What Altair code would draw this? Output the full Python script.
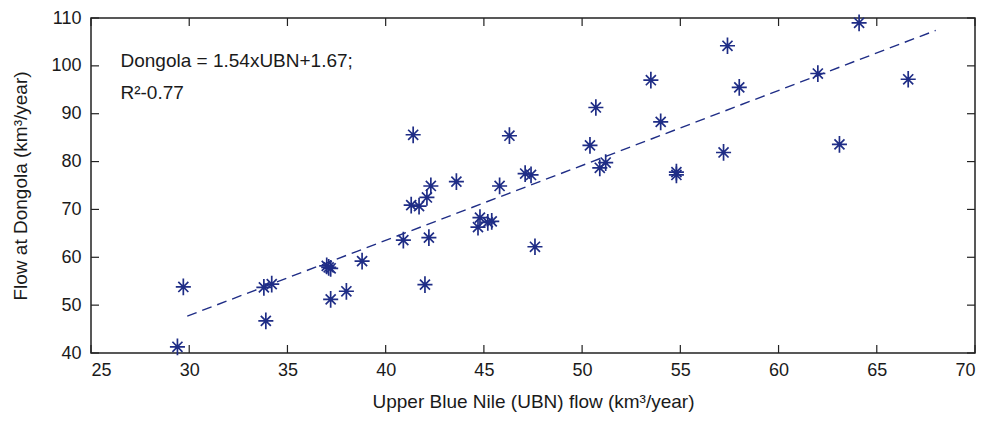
import altair as alt
import pandas as pd

ubn = [29.4, 29.7, 33.8, 34.2, 33.9, 37.0, 37.2, 37.1, 37.2, 38.0, 38.8, 40.9,
       42.0, 42.2, 41.3, 41.7, 42.1, 42.3, 43.6, 44.8, 44.7, 45.2, 45.4, 45.8,
       47.6, 41.4, 46.3, 47.1, 47.4, 50.7, 50.4, 50.9, 51.2, 53.5, 54.0, 54.8,
       54.8, 57.4, 57.2, 58.0, 62.0, 63.1, 64.1, 66.6]
dongola = [41.3, 53.8, 53.7, 54.4, 46.7, 58.2, 57.7, 57.9, 51.2, 52.9, 59.2, 63.6,
           54.3, 64.1, 70.9, 70.7, 72.5, 74.9, 75.8, 68.3, 66.3, 67.3, 67.5, 74.9,
           62.2, 85.6, 85.4, 77.5, 77.2, 91.3, 83.4, 78.7, 79.8, 97.0, 88.3, 77.8,
           77.2, 104.2, 81.9, 95.5, 98.4, 83.6, 109.0, 97.2]

# Fitted regression line endpoints
fit_x = [29.9, 68.0]
fit_y = [47.7, 107.4]

x_ticks = [25, 30, 35, 40, 45, 50, 55, 60, 65, 70]
y_ticks = [40, 50, 60, 70, 80, 90, 100, 110]

annot_text = ["Dongola = 1.54xUBN+1.67;", "R²-0.77"]
annot_x = [26.5, 26.5]
annot_y = [99.7, 93.0]

W, H = 884, 335
NAVY = "#1f2d86"
FONT = "Liberation Sans"
TICK = 8

pts = pd.DataFrame({"ubn": ubn, "dongola": dongola})
fit = pd.DataFrame({"ubn": fit_x, "dongola": fit_y})
ann = pd.DataFrame({"t": annot_text, "x": annot_x, "y": annot_y})
xt = pd.DataFrame({"v": x_ticks})
yt = pd.DataFrame({"v": y_ticks})

xscale = alt.Scale(domain=[25, 70], nice=False, zero=False)
yscale = alt.Scale(domain=[40, 110], nice=False, zero=False)

xaxis = alt.Axis(values=x_ticks, ticks=False, domain=False, grid=False,
                 labelFont=FONT, labelFontSize=18, labelColor="#1a1a1a",
                 labelPadding=8, title="Upper Blue Nile (UBN) flow (km³/year)",
                 titleFont=FONT, titleFontSize=19, titleFontWeight="normal",
                 titleColor="#1a1a1a", titlePadding=13)
yaxis = alt.Axis(values=y_ticks, ticks=False, domain=False, grid=False,
                 labelFont=FONT, labelFontSize=18, labelColor="#1a1a1a",
                 labelPadding=10, title="Flow at Dongola (km³/year)",
                 titleFont=FONT, titleFontSize=19, titleFontWeight="normal",
                 titleColor="#1a1a1a", titlePadding=20)

star = "M0,-1L0,1M-0.9,0L0.9,0M-0.6,-0.6L0.6,0.6M-0.6,0.6L0.6,-0.6"

points = alt.Chart(pts).mark_point(
    shape=star, filled=False, stroke=NAVY, strokeWidth=1.7, size=280, opacity=1
).encode(
    x=alt.X("ubn:Q", scale=xscale, axis=xaxis),
    y=alt.Y("dongola:Q", scale=yscale, axis=yaxis),
)

line = alt.Chart(fit).mark_line(
    color=NAVY, strokeDash=[10, 6], strokeWidth=1.4
).encode(
    x=alt.X("ubn:Q", scale=xscale),
    y=alt.Y("dongola:Q", scale=yscale),
)

text = alt.Chart(ann).mark_text(
    align="left", baseline="alphabetic", font=FONT, fontSize=19, color="#1a1a1a"
).encode(
    x=alt.X("x:Q", scale=xscale),
    y=alt.Y("y:Q", scale=yscale),
    text="t:N",
)

tick_style = dict(color="#222", strokeWidth=1.2)
bottom_ticks = alt.Chart(xt).mark_rule(**tick_style).encode(
    x=alt.X("v:Q", scale=xscale), y=alt.value(H), y2=alt.value(H - TICK))
top_ticks = alt.Chart(xt).mark_rule(**tick_style).encode(
    x=alt.X("v:Q", scale=xscale), y=alt.value(0), y2=alt.value(TICK))
left_ticks = alt.Chart(yt).mark_rule(**tick_style).encode(
    y=alt.Y("v:Q", scale=yscale), x=alt.value(0), x2=alt.value(TICK))
right_ticks = alt.Chart(yt).mark_rule(**tick_style).encode(
    y=alt.Y("v:Q", scale=yscale), x=alt.value(W), x2=alt.value(W - TICK))

chart = alt.layer(
    bottom_ticks, top_ticks, left_ticks, right_ticks, line, points, text
).properties(
    width=W, height=H,
    autosize=alt.AutoSizeParams(type="none"),
    padding={"left": 91, "top": 18, "right": 20, "bottom": 68},
    background="white",
).configure_view(
    stroke="#222", strokeWidth=1.5
)

chart.save("out.html", embed_options={"renderer": "svg", "actions": False})
